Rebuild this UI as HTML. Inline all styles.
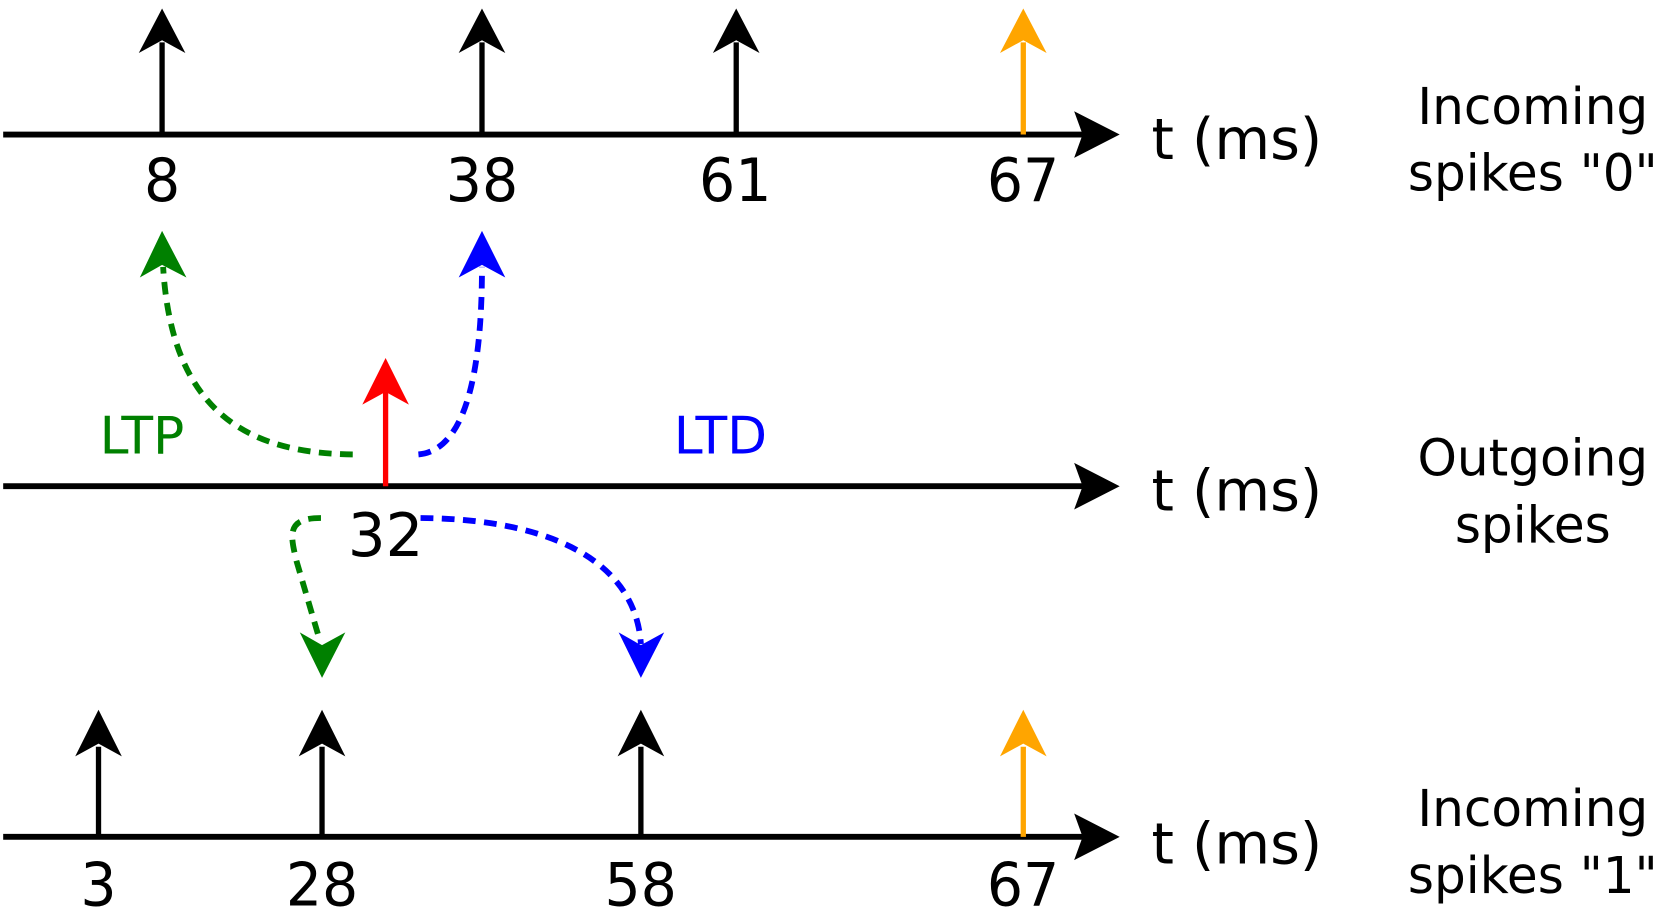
<!DOCTYPE html>
<html><head><meta charset="utf-8"><style>html,body{margin:0;padding:0;background:#fff}svg{display:block}</style></head><body>
<svg width="1661" height="924" viewBox="0 0 1568 872.3" preserveAspectRatio="none" xmlns="http://www.w3.org/2000/svg" font-family="'DejaVu Sans','Liberation Sans',sans-serif">
<defs>
<g id="ax"><line x1="3" y1="0" x2="1030" y2="0" stroke="#000" stroke-width="5.5"/><polygon points="1057,0 1014,-22 1022,0 1014,22" fill="#000"/></g>
</defs>
<!-- top axis -->
<use href="#ax" y="127"/>
<g stroke-width="5">
<line x1="153" y1="127" x2="153" y2="40" stroke="#000"/><polygon points="153,8 131,50 153,38 175,50" fill="#000"/>
<line x1="455" y1="127" x2="455" y2="40" stroke="#000"/><polygon points="455,8 433,50 455,38 477,50" fill="#000"/>
<line x1="695" y1="127" x2="695" y2="40" stroke="#000"/><polygon points="695,8 673,50 695,38 717,50" fill="#000"/>
<line x1="966" y1="127" x2="966" y2="40" stroke="#FFA500"/><polygon points="966,8 944,50 966,38 988,50" fill="#FFA500"/>
</g>
<g font-size="56" text-anchor="middle" fill="#000" transform="scale(0.96,1)">
<text x="159.4" y="190">8</text><text x="474" y="190">38</text><text x="723" y="190">61</text><text x="1006" y="190">67</text>
</g>
<text x="1087" y="150" font-size="54">t (ms)</text>
<g font-size="48" text-anchor="middle" transform="scale(0.985,1)"><text x="1469" y="117">Incoming</text><text x="1469" y="180">spikes "0"</text></g>

<!-- middle axis -->
<use href="#ax" y="459"/>
<line x1="364" y1="459" x2="364" y2="370" stroke="#f00" stroke-width="5"/><polygon points="364,338 342,382 364,370 386,382" fill="#f00"/>
<text x="364" y="525" font-size="56" text-anchor="middle">32</text>
<text x="1087" y="482" font-size="54">t (ms)</text>
<text x="94" y="428" font-size="49" fill="#008000">LTP</text>
<text x="636" y="428" font-size="49" fill="#0000ff">LTD</text>
<g font-size="48" text-anchor="middle" transform="scale(0.985,1)"><text x="1469" y="449">Outgoing</text><text x="1469" y="512">spikes</text></g>
<g fill="none" stroke-width="5.5" stroke-dasharray="12 8">
<path d="M333,429 C235,428 162,390 154,252" stroke="#008000"/>
<path d="M395,429 C440,425 455,350 455,252" stroke="#0000ff"/>
<path d="M303,489 C270,489 274,505 280,530 L302,605" stroke="#008000"/>
<path d="M397,489 C520,490 600,530 605,608" stroke="#0000ff"/>
</g>
<polygon points="153,218 132,262 153,250 176,262" fill="#008000"/>
<polygon points="455,218 433,262 455,250 477,262" fill="#0000ff"/>
<polygon points="304,640 283,597 304,609 326,597" fill="#008000"/>
<polygon points="605,640 584,597 605,609 627,597" fill="#0000ff"/>

<!-- bottom axis -->
<use href="#ax" y="790"/>
<g stroke-width="5">
<line x1="93" y1="790" x2="93" y2="705" stroke="#000"/><polygon points="93,670 71,714 93,702 115,714" fill="#000"/>
<line x1="304" y1="790" x2="304" y2="705" stroke="#000"/><polygon points="304,670 282,714 304,702 326,714" fill="#000"/>
<line x1="605" y1="790" x2="605" y2="705" stroke="#000"/><polygon points="605,670 583,714 605,702 627,714" fill="#000"/>
<line x1="966" y1="790" x2="966" y2="705" stroke="#FFA500"/><polygon points="966,670 944,714 966,702 988,714" fill="#FFA500"/>
</g>
<g font-size="56" text-anchor="middle" fill="#000" transform="scale(0.96,1)">
<text x="96.9" y="855">3</text><text x="316.7" y="855">28</text><text x="630" y="855">58</text><text x="1006" y="855">67</text>
</g>
<text x="1087" y="815" font-size="54">t (ms)</text>
<g font-size="48" text-anchor="middle" transform="scale(0.985,1)"><text x="1469" y="780">Incoming</text><text x="1469" y="843">spikes "1"</text></g>
</svg>
</body></html>
